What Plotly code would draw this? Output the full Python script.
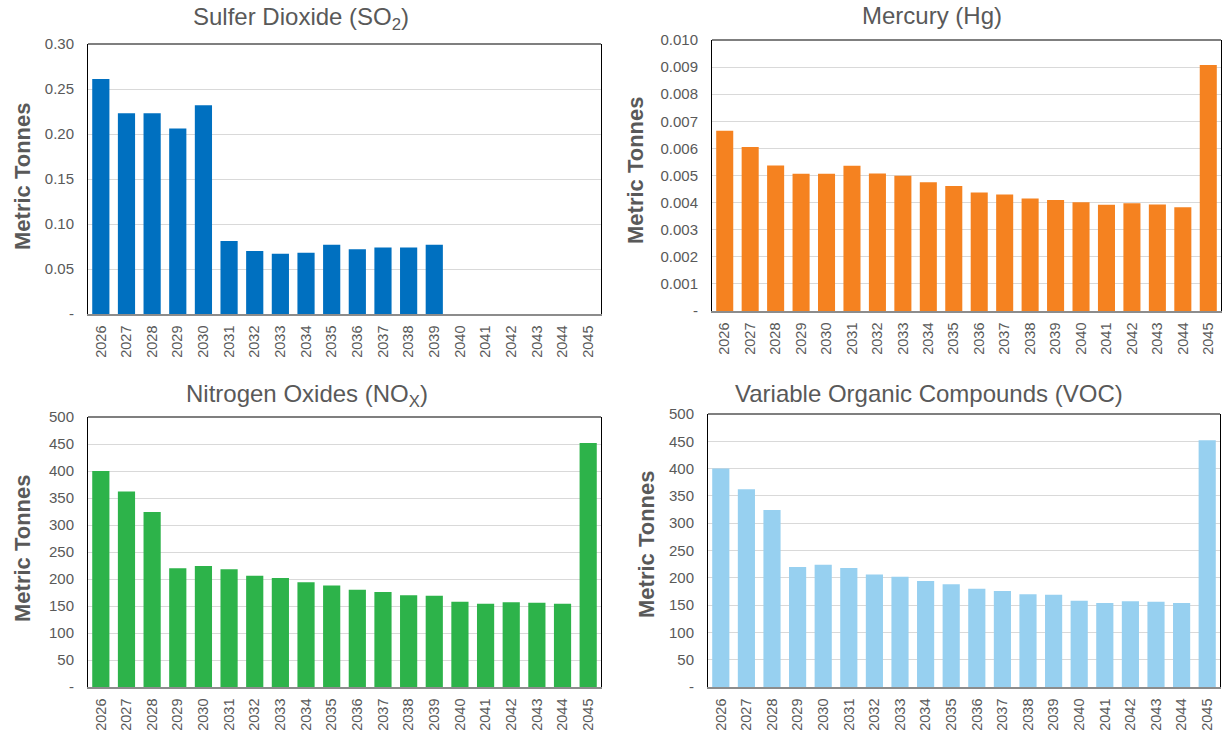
import plotly.graph_objects as go

years = [str(y) for y in range(2026, 2046)]

so2 = [0.261, 0.223, 0.223, 0.206, 0.232, 0.081, 0.070, 0.067, 0.068, 0.077,
       0.072, 0.074, 0.074, 0.077, 0, 0, 0, 0, 0, 0]
hg = [0.00665, 0.00605, 0.00537, 0.00506, 0.00506, 0.00536, 0.00507, 0.00499,
      0.00475, 0.00461, 0.00437, 0.00430, 0.00415, 0.00410, 0.00401, 0.00392,
      0.00398, 0.00393, 0.00383, 0.00908]
nox = [400, 362, 324, 220, 224, 218, 206, 202, 194, 188, 180, 176, 170, 169,
       158, 154, 157, 156, 154, 452]
voc = [400, 362, 324, 220, 224, 218, 206, 202, 194, 188, 180, 176, 170, 169,
       158, 154, 157, 156, 154, 452]

so2_ticks = [0, 0.05, 0.10, 0.15, 0.20, 0.25, 0.30]
so2_text = ["-", "0.05", "0.10", "0.15", "0.20", "0.25", "0.30"]
hg_ticks = [i / 1000 for i in range(0, 11)]
hg_text = ["-"] + ["0.%03d" % i for i in range(1, 11)]
nox_ticks = list(range(0, 501, 50))
nox_text = ["-"] + [str(v) for v in range(50, 501, 50)]

titles = ["Sulfer Dioxide (SO<sub>2</sub>)", "Mercury (Hg)",
          "Nitrogen Oxides (NO<sub>X</sub>)", "Variable Organic Compounds (VOC)"]

W, H = 1223, 734
FONT = "Liberation Sans, Arial, sans-serif"
GREY = "#595959"

panels = [
    # data, color, ticks, text, range, (left,right,top,bottom) px, title center, ytitle center
    (so2, "#0070C0", so2_ticks, so2_text, [0, 0.30], (88, 601, 44, 314), (301, 19), (22, 176)),
    (hg, "#F58220", hg_ticks, hg_text, [0, 0.010], (712, 1221, 40, 311), (932, 16), (636, 170)),
    (nox, "#2DB34A", nox_ticks, nox_text, [0, 500], (88, 601, 417, 687), (307, 395), (22, 548)),
    (voc, "#97D0F0", nox_ticks, nox_text, [0, 500], (708, 1220, 414, 687), (929, 393), (646, 544)),
]

fig = go.Figure()
annotations = []
shapes = []
for i, (vals, color, tv, tt, rng, box, tpos, ypos) in enumerate(panels):
    n = "" if i == 0 else str(i + 1)
    l, r, t, b = box
    fig.add_trace(go.Bar(x=years, y=vals, marker=dict(color=color, line=dict(width=0)),
                         xaxis="x" + n, yaxis="y" + n, showlegend=False))
    fig.layout["xaxis" + n] = dict(
        domain=[l / W, r / W], anchor="y" + n, type="category",
        tickangle=-90, tickfont=dict(size=14.5, color=GREY, family=FONT),
        showline=True, linecolor="#8C8C8C", linewidth=1.5, mirror=False,
        showgrid=False, ticks="outside", ticklen=4, tickcolor="rgba(0,0,0,0)",
        automargin=False)
    fig.layout["yaxis" + n] = dict(
        domain=[1 - b / H, 1 - t / H], anchor="x" + n, range=rng,
        tickvals=tv, ticktext=tt, tickfont=dict(size=15, color=GREY, family=FONT),
        showline=True, linecolor="#000000", linewidth=1, mirror=True,
        showgrid=True, gridcolor="#D9D9D9", gridwidth=1, zeroline=False,
        ticks="outside", ticklen=10, tickcolor="rgba(0,0,0,0)", automargin=False)
    xr = "x" + n + " domain"
    yr = "y" + n + " domain"
    shapes.append(dict(type="line", xref=xr, yref=yr, x0=0, x1=1, y0=1, y1=1,
                       line=dict(color="#000000", width=1.2)))
    annotations.append(dict(text=titles[i], x=tpos[0] / W, y=1 - tpos[1] / H,
                            xref="paper", yref="paper", showarrow=False,
                            xanchor="center", yanchor="middle",
                            font=dict(size=24, color=GREY, family=FONT)))
    annotations.append(dict(text="<b>Metric Tonnes</b>", x=ypos[0] / W,
                            y=1 - ypos[1] / H, xref="paper", yref="paper",
                            showarrow=False, textangle=-90,
                            xanchor="center", yanchor="middle",
                            font=dict(size=22, color=GREY, family=FONT)))

fig.update_layout(width=W, height=H, margin=dict(l=0, r=0, t=0, b=0),
                  paper_bgcolor="white", plot_bgcolor="white",
                  bargap=0.33, annotations=annotations, shapes=shapes,
                  font=dict(family=FONT, color=GREY))
fig.write_html("out.html", config={"displayModeBar": False},
               post_script="document.body.style.margin='0';document.body.style.overflow='hidden';")
